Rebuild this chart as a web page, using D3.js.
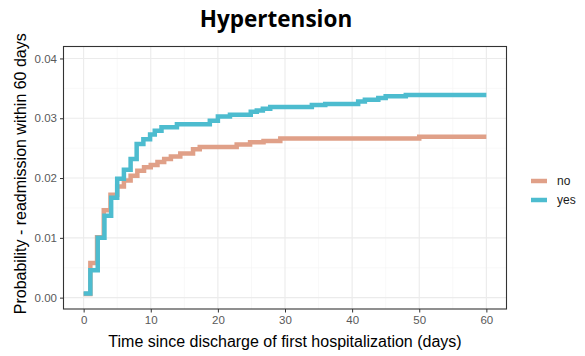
<!DOCTYPE html>
<html>
<head>
<meta charset="utf-8">
<script src="https://cdn.jsdelivr.net/npm/d3@7"></script>
<style>
  body { margin: 0; background: #fff; }
  .grid line { stroke: #ebebeb; }
  .grid.minor line { stroke: #f4f4f4; }
  .tick text { fill: #595959; font-family: "Liberation Sans", Arial, sans-serif; font-size: 11.5px; }
</style>
</head>
<body>
<div class="chart"></div>
<script>
// step curves (day of step, cumulative probability after it)
let groups = ["no", "yes"];
let colors = ["#e0a088", "#4dbccf"];

let daysNo = [0, 1, 2, 3, 4, 5, 6, 7, 8, 9, 10, 11, 12, 13, 14.4, 16.3, 17.3, 22.8, 24.8, 26.8, 29.3, 50, 60];
let probNo = [0.0006, 0.0058, 0.0101, 0.0146, 0.0172, 0.0186, 0.0196, 0.0204, 0.0212, 0.0218, 0.0222, 0.0227,
  0.0232, 0.0236, 0.0241, 0.0248, 0.0252, 0.0256, 0.026, 0.0262, 0.0266, 0.0269, 0.0269];

let daysYes = [0, 1, 2.1, 3.1, 4.1, 5, 6, 7, 7.9, 8.9, 9.9, 10.6, 11.6, 13.9, 18.8, 20, 21.8, 24.9, 25.8, 26.7,
  27.8, 34, 36, 40.9, 41.9, 43.9, 45, 48, 60];
let probYes = [0.0007, 0.0046, 0.01, 0.0137, 0.0167, 0.0199, 0.0214, 0.0232, 0.0257, 0.0265, 0.0273, 0.0279,
  0.0285, 0.029, 0.0296, 0.0303, 0.0306, 0.0311, 0.0313, 0.0316, 0.0319, 0.0322, 0.0324, 0.0328, 0.0331,
  0.0334, 0.0337, 0.0339, 0.0339];

let xTicks = [0, 10, 20, 30, 40, 50, 60];
let yTicks = [0, 0.01, 0.02, 0.03, 0.04];

let outerWidth = 585,
  outerHeight = 356;
let margin = { top: 46.5, right: 78.5, bottom: 47, left: 63.5 };
let width = outerWidth - margin.left - margin.right,
  height = outerHeight - margin.top - margin.bottom;

let svg = d3
  .select(".chart")
  .append("svg")
  .attr("width", outerWidth)
  .attr("height", outerHeight);

let g = svg.append("g").attr("transform", "translate(" + margin.left + "," + margin.top + ")");

let x = d3.scaleLinear().domain([-3, 63]).range([0, width]);
let y = d3.scaleLinear().domain([-0.0019, 0.042]).range([height, 0]);

// grid, minor first
g.append("g")
  .attr("class", "grid minor")
  .selectAll("line")
  .data([5, 15, 25, 35, 45, 55])
  .enter()
  .append("line")
  .attr("x1", (d) => x(d))
  .attr("x2", (d) => x(d))
  .attr("y1", 0)
  .attr("y2", height)
  .attr("stroke-width", 0.6);
g.append("g")
  .attr("class", "grid minor")
  .selectAll("line")
  .data([0.005, 0.015, 0.025, 0.035])
  .enter()
  .append("line")
  .attr("x1", 0)
  .attr("x2", width)
  .attr("y1", (d) => y(d))
  .attr("y2", (d) => y(d))
  .attr("stroke-width", 0.6);
g.append("g")
  .attr("class", "grid")
  .selectAll("line")
  .data(xTicks)
  .enter()
  .append("line")
  .attr("x1", (d) => x(d))
  .attr("x2", (d) => x(d))
  .attr("y1", 0)
  .attr("y2", height)
  .attr("stroke-width", 1.1);
g.append("g")
  .attr("class", "grid")
  .selectAll("line")
  .data(yTicks)
  .enter()
  .append("line")
  .attr("x1", 0)
  .attr("x2", width)
  .attr("y1", (d) => y(d))
  .attr("y2", (d) => y(d))
  .attr("stroke-width", 1.1);

// the two step curves
let line = d3
  .line()
  .x((d) => x(d[0]))
  .y((d) => y(d[1]))
  .curve(d3.curveStepAfter);

let series = [d3.zip(daysNo, probNo), d3.zip(daysYes, probYes)];
series.forEach((s, i) => {
  g.append("path")
    .attr("d", line(s))
    .attr("fill", "none")
    .attr("stroke", colors[i])
    .attr("stroke-width", 4.5)
    .attr("stroke-linejoin", "miter");
});

// axes
let xAxis = g
  .append("g")
  .attr("transform", "translate(0," + height + ")")
  .call(d3.axisBottom(x).tickValues(xTicks).tickSize(3.5).tickPadding(3));
let yAxis = g
  .append("g")
  .call(d3.axisLeft(y).tickValues(yTicks).tickFormat(d3.format(".2f")).tickSize(3.5).tickPadding(3));
[xAxis, yAxis].forEach((a) => {
  a.select(".domain").remove();
  a.selectAll(".tick line").attr("stroke", "#333").attr("stroke-width", 1);
});

g.append("rect") // panel border
  .attr("width", width)
  .attr("height", height)
  .attr("fill", "none")
  .attr("stroke", "#333")
  .attr("stroke-width", 1.1);

// titles
svg.append("text")
  .attr("x", 276)
  .attr("y", 27)
  .attr("text-anchor", "middle")
  .style("font-family", "'Open Sans', sans-serif")
  .style("font-weight", "bold")
  .style("font-size", "22.5px")
  .text("Hypertension");

svg.append("text")
  .attr("x", margin.left + width / 2)
  .attr("y", 347)
  .attr("text-anchor", "middle")
  .style("font-family", "'Liberation Sans', Arial, sans-serif")
  .style("font-size", "16px")
  .text("Time since discharge of first hospitalization (days)");

svg.append("text")
  .attr("transform", "translate(26," + (margin.top + height / 2 - 4) + ") rotate(-90)")
  .attr("text-anchor", "middle")
  .style("font-family", "'Liberation Sans', Arial, sans-serif")
  .style("font-size", "16px")
  .text("Probability - readmission within 60 days");

// legend
let legend = svg
  .selectAll(".legend")
  .data(groups)
  .enter()
  .append("g")
  .attr("class", "legend")
  .attr("transform", (d, i) => "translate(531," + (181 + i * 19) + ")");
legend
  .append("line")
  .attr("x1", 0)
  .attr("x2", 16)
  .attr("stroke", (d, i) => colors[i])
  .attr("stroke-width", 4.5);
legend
  .append("text")
  .attr("x", 26)
  .attr("dy", "0.35em")
  .style("font-family", "'Liberation Sans', Arial, sans-serif")
  .style("font-size", "12px")
  .style("fill", "#1a1a1a")
  .text((d) => d);
</script>
</body>
</html>
